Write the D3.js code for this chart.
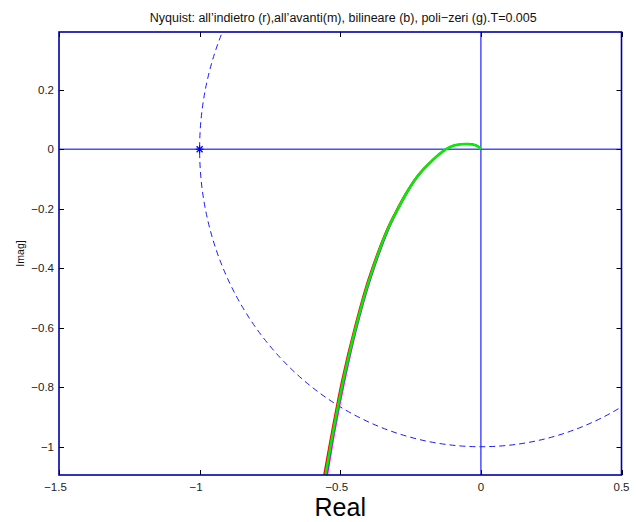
<!DOCTYPE html>
<html><head><meta charset="utf-8">
<script src="https://cdn.jsdelivr.net/npm/d3@7"></script>
<style>body{margin:0;background:#fff}svg{display:block}text{font-family:"Liberation Sans",Arial,sans-serif}</style>
</head><body><svg id="c" width="636" height="522"></svg>
<script>
// ---- data ----
const title = "Nyquist: all\u2019indietro (r),all\u2019avanti(m), bilineare (b), poli\u2212zeri (g).T=0.005";
const xTicks = [-1.5, -1, -0.5, 0, 0.5];
const yTicks = [-1, -0.8, -0.6, -0.4, -0.2, 0, 0.2];
const imagVals  = [-1.15,-1.095,-0.944,-0.776,-0.607,-0.439,-0.271,-0.204,-0.137,-0.086,-0.036,0,0.0128,0.0168,0.017,0.0145,0.0067,0];
const reGreen   = [-0.562,-0.552,-0.524,-0.489,-0.447,-0.397,-0.332,-0.297,-0.258,-0.221,-0.171,-0.124,-0.096,-0.068,-0.043,-0.021,-0.006,0];
const reRed     = [-0.568,-0.558,-0.529,-0.494,-0.451,-0.401,-0.335,-0.300,-0.260,-0.223,-0.172,-0.125,-0.096,-0.068,-0.043,-0.021,-0.006,0];
const reMagenta = [-0.556,-0.546,-0.519,-0.484,-0.443,-0.393,-0.329,-0.295,-0.256,-0.219,-0.170,-0.123,-0.096,-0.068,-0.043,-0.021,-0.006,0];
const reBlue    = [-0.559,-0.549,-0.522,-0.487,-0.445,-0.395,-0.330,-0.296,-0.257,-0.220,-0.171,-0.124,-0.096,-0.068,-0.043,-0.021,-0.006,0];
const seriesNames = ["r","m","b","g"];
const seriesColors = ["#ff0000","#ff00ff","#0000ff","#00ee00"];
const criticalPoint = [-1, 0];
const circleRadius = 1;

// ---- layout ----
const L = 59, R = 621.5, T = 32, B = 475;
const x = d3.scaleLinear().domain([-1.5, 0.5]).range([L, R]);
const y = d3.scaleLinear().domain([-1.095, 0.394]).range([B, T]);
const svg = d3.select("#c");

svg.append("defs").append("clipPath").attr("id","clip")
  .append("rect").attr("x",L).attr("y",T).attr("width",R-L).attr("height",B-T);

const g = svg.append("g").attr("clip-path","url(#clip)");

// zero lines
g.append("line").attr("x1",L).attr("x2",R).attr("y1",y(0)).attr("y2",y(0))
  .attr("stroke","#4d4dff").attr("stroke-width",1.5);
g.append("line").attr("y1",T).attr("y2",B).attr("x1",x(0)).attr("x2",x(0))
  .attr("stroke","#4d4dff").attr("stroke-width",1.5);

// unit circle (dashed)
g.append("ellipse").attr("cx",x(0)).attr("cy",y(0))
  .attr("rx",x(circleRadius)-x(0)).attr("ry",y(0)-y(circleRadius))
  .attr("fill","none").attr("stroke","#1a1aff").attr("stroke-width",1).attr("stroke-dasharray","6,4");

// curves
const reSets = [reRed, reMagenta, reBlue, reGreen];
const widths = [1.6, 1.6, 1.2, 2.6];
const line = d3.line().x(d=>x(d[0])).y(d=>y(d[1])).curve(d3.curveCatmullRom.alpha(0.5));
reSets.forEach((re,i)=>{
  const pts = re.map((v,j)=>[v, imagVals[j]]);
  g.append("path").attr("d",line(pts)).attr("fill","none")
    .attr("stroke",seriesColors[i]).attr("stroke-width",widths[i]).attr("stroke-linejoin","round");
});

// critical point marker '*'
const cx = x(criticalPoint[0]), cy = y(criticalPoint[1]), s = 4;
const mk = svg.append("g").attr("stroke","#0000ff").attr("stroke-width",1.2);
[[0,-s,0,s],[-s,0,s,0],[-s*0.75,-s*0.75,s*0.75,s*0.75],[-s*0.75,s*0.75,s*0.75,-s*0.75]].forEach(a=>{
  mk.append("line").attr("x1",cx+a[0]).attr("y1",cy+a[1]).attr("x2",cx+a[2]).attr("y2",cy+a[3]);
});

// ticks
const tk = svg.append("g").attr("stroke","#000").attr("stroke-width",1);
xTicks.forEach(v=>{
  const px = Math.round(x(v))+0.5;
  tk.append("line").attr("x1",px).attr("x2",px).attr("y1",B).attr("y2",B-5);
  tk.append("line").attr("x1",px).attr("x2",px).attr("y1",T).attr("y2",T+5);
});
yTicks.forEach(v=>{
  const py = Math.round(y(v))+0.5;
  tk.append("line").attr("x1",L).attr("x2",L+5).attr("y1",py).attr("y2",py);
  tk.append("line").attr("x1",R).attr("x2",R-5).attr("y1",py).attr("y2",py);
});

// box
svg.append("rect").attr("x",L).attr("y",T).attr("width",R-L).attr("height",B-T)
  .attr("fill","none").attr("stroke","#0000a8").attr("stroke-width",1.6);

const fmt = v => (v<0 ? "\u2212" : "") + String(Math.abs(v));
// x tick labels
svg.append("g").selectAll("text").data(xTicks).join("text")
  .attr("x",d=>x(d) - (d<0?3.5:0)).attr("y",491).attr("text-anchor","middle")
  .attr("font-size",11.5).attr("fill","#222").text(fmt);
// y tick labels
svg.append("g").selectAll("text").data(yTicks).join("text")
  .attr("x",54).attr("y",d=>y(d)+4).attr("text-anchor","end")
  .attr("font-size",11.5).attr("fill","#222").text(fmt);

// title
svg.append("text").attr("x",(L+R)/2+3).attr("y",22).attr("text-anchor","middle")
  .attr("font-size",12.5).attr("fill","#111").text(title);
// x label
svg.append("text").attr("x",(L+R)/2).attr("y",516).attr("text-anchor","middle")
  .attr("font-size",25).attr("fill","#000").text("Real");
// y label
svg.append("text").attr("transform",`translate(24,${(T+B)/2}) rotate(-90)`).attr("text-anchor","middle")
  .attr("font-size",10.5).attr("fill","#111").text("Imag]");
</script></body></html>
